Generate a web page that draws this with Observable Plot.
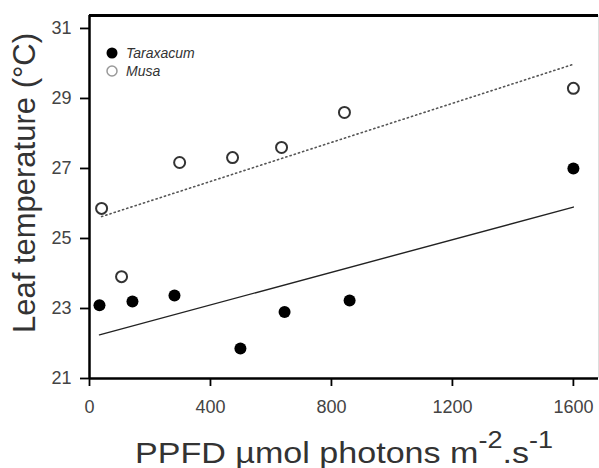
<!DOCTYPE html>
<html><head><meta charset="utf-8">
<script src="https://cdn.jsdelivr.net/npm/d3@7"></script>
<script src="https://cdn.jsdelivr.net/npm/@observablehq/plot@0.6"></script>
<style>
body{margin:0;background:#fff;}
#chart svg{display:block;}
</style>
</head><body><div id="chart"></div>
<script>
// Data
const seriesNames = ["Taraxacum", "Musa"];
const ppfdTaraxacum = [33, 142, 281, 499, 645, 860, 1600];
const tempTaraxacum = [23.09, 23.2, 23.37, 21.86, 22.9, 23.23, 27.0];
const ppfdMusa = [40, 106, 298, 473, 635, 843, 1600];
const tempMusa = [25.86, 23.91, 27.17, 27.31, 27.6, 28.6, 29.29];
const xTicks = [0, 400, 800, 1200, 1600];
const yTicks = [21, 23, 25, 27, 29, 31];
const xDomain = [0, 1683];
const yDomain = [21, 31.37];

const tar = ppfdTaraxacum.map((x, i) => ({x, y: tempTaraxacum[i]}));
const musa = ppfdMusa.map((x, i) => ({x, y: tempMusa[i]}));

const font = "'Liberation Sans', Arial, sans-serif";

const plot = Plot.plot({
  width: 599, height: 468,
  marginLeft: 89, marginRight: 1, marginTop: 15, marginBottom: 90,
  style: {fontFamily: font, fontSize: "18px", color: "#444", background: "#fff", overflow: "visible"},
  x: {domain: xDomain, label: null},
  y: {domain: yDomain, label: null},
  marks: [
    Plot.ruleX([xDomain[1]], {stroke: "#ddd", strokeWidth: 1}),
    Plot.ruleY([yDomain[1]], {stroke: "#000", strokeWidth: 3}),
    Plot.linearRegressionY(tar, {x: "x", y: "y", ci: 0, stroke: "#222", strokeWidth: 1.4}),
    Plot.linearRegressionY(musa, {x: "x", y: "y", ci: 0, stroke: "#555", strokeWidth: 1.6, strokeDasharray: "1.2,3.2"}),
    Plot.dot(tar, {x: "x", y: "y", r: 6, fill: "#000", stroke: "none"}),
    Plot.dot(musa, {x: "x", y: "y", r: 5.5, fill: "#fff", stroke: "#333", strokeWidth: 2}),
    Plot.ruleX([xDomain[0]], {stroke: "#000", strokeWidth: 2.5}),
    Plot.ruleY([yDomain[0]], {stroke: "#000", strokeWidth: 2.5}),
    Plot.axisX({ticks: xTicks, tickFormat: d3.format("d"), tickSize: 8, tickPadding: 14, stroke: "#000", strokeWidth: 1.8, fill: "#444", label: null}),
    Plot.axisY({ticks: yTicks, tickFormat: d3.format("d"), tickSize: 9, tickPadding: 9, stroke: "#000", strokeWidth: 1.8, fill: "#444", label: null})
  ]
});
document.getElementById("chart").appendChild(plot);

const svg = d3.select(plot);
// Legend
const legend = svg.append("g").attr("font-family", font).attr("font-style", "italic")
  .attr("font-size", 14).attr("fill", "#333").attr("text-anchor", "start");
legend.append("circle").attr("cx", 112).attr("cy", 53).attr("r", 5.5).attr("fill", "#000");
legend.append("text").attr("x", 126).attr("y", 58).text(seriesNames[0]);
legend.append("circle").attr("cx", 112).attr("cy", 71).attr("r", 5).attr("fill", "#fff").attr("stroke", "#999").attr("stroke-width", 1.5);
legend.append("text").attr("x", 126).attr("y", 76).text(seriesNames[1]);

// Y axis label
svg.append("text")
  .attr("transform", "translate(35,183) rotate(-90)")
  .attr("text-anchor", "middle")
  .attr("font-family", font).attr("font-size", 31).attr("fill", "#333")
  .text("Leaf temperature (°C)");

// X axis label
const xl = svg.append("text")
  .attr("x", 135).attr("y", 463)
  .attr("text-anchor", "start")
  .attr("textLength", 418).attr("lengthAdjust", "spacingAndGlyphs")
  .attr("font-family", font).attr("font-size", 29).attr("fill", "#333");
xl.append("tspan").text("PPFD µmol photons m");
xl.append("tspan").attr("font-size", 23).attr("dy", -15).text("-2");
xl.append("tspan").attr("dy", 15).text(".s");
xl.append("tspan").attr("font-size", 23).attr("dy", -15).text("-1");
</script>
</body></html>
